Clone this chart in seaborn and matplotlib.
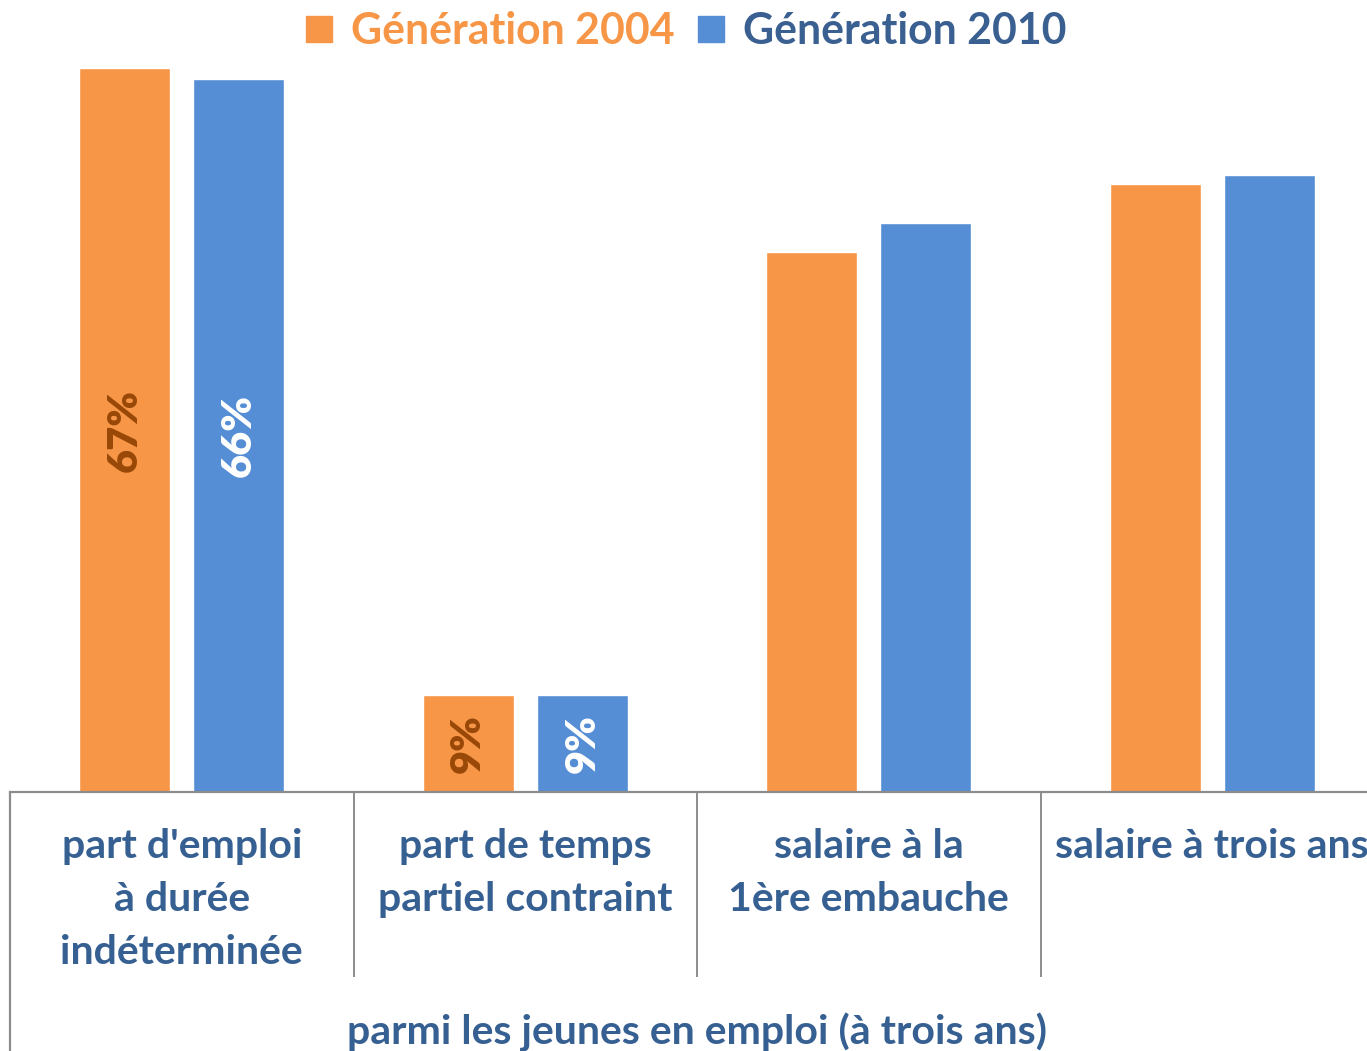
import matplotlib
matplotlib.use("Agg")
import matplotlib.pyplot as plt
import seaborn as sns
import pandas as pd
from matplotlib.lines import Line2D

categories = ["part d'emploi\nà durée\nindéterminée",
              "part de temps\npartiel contraint",
              "salaire à la\n1ère embauche",
              "salaire à trois ans"]
series = ["Génération 2004", "Génération 2010"]
values_2004 = [67, 9, 50.0, 56.3]
values_2010 = [66, 9, 52.7, 57.1]
labels_2004 = ["67%", "9%", "", ""]
labels_2010 = ["66%", "9%", "", ""]
group_label = "parmi les jeunes en emploi (à trois ans)"

ORANGE = "#F79646"
BLUE = "#558ED5"
TXT_BLUE = "#376092"
DARK_ORANGE = "#984807"

df = pd.DataFrame({
    "cat": categories * 2,
    "serie": [series[0]] * 4 + [series[1]] * 4,
    "val": values_2004 + values_2010,
})

sns.set_theme(style="white")
plt.rcParams['font.family'] = ['Lato', 'DejaVu Sans']
plt.rcParams['font.weight'] = 'bold'

W, H = 1367, 1051
fig = plt.figure(figsize=(W / 100, H / 100), dpi=100)
ax_left = 10 / W
ax_w = 1374 / W
ax_bottom = 1 - 792 / H
ax_h = 756.4 / H
ax = fig.add_axes([ax_left, ax_bottom, ax_w, ax_h])

sns.barplot(data=df, x="cat", y="val", hue="serie", order=categories,
            hue_order=series, palette=[ORANGE, BLUE], width=0.664, gap=0.2,
            saturation=1, ax=ax, legend=False)

ax.set_ylim(0, 70)
ax.set_xlim(-0.5, 3.5)
ax.set_yticks([])
ax.set_xlabel("")
ax.set_ylabel("")
for s in ["top", "right", "left"]:
    ax.spines[s].set_visible(False)
ax.spines["bottom"].set_color("#8C8C8C")
ax.spines["bottom"].set_linewidth(1.6)

ax.set_xticks(range(4))
ax.set_xticklabels(categories, fontsize=29.5, fontweight='bold', color=TXT_BLUE,
                   linespacing=1.53)
ax.tick_params(axis='x', which='major', length=0, pad=26)
ax.set_xticks([0.5, 1.5, 2.5, 3.5], minor=True)
ax.tick_params(axis='x', which='minor', length=133, width=1.4, color="#8C8C8C",
               direction='out', bottom=True)

xt = ax.get_xaxis_transform()
ax.add_line(Line2D([-0.5, -0.5], [0, -0.5], transform=xt, color="#8C8C8C",
                   lw=1.6, clip_on=False))

containers = ax.containers
ax.bar_label(containers[0], labels=labels_2004, label_type='center', rotation=90,
             fontsize=30, fontweight='heavy', color=DARK_ORANGE)
ax.bar_label(containers[1], labels=labels_2010, label_type='center', rotation=90,
             fontsize=30, fontweight='heavy', color='white')

fig.text(697 / W, 1 - 1032 / H, group_label, ha='center', va='center',
         fontsize=29.5, fontweight='bold', color=TXT_BLUE)

handles = [Line2D([], [], marker='s', linestyle='none', markersize=19,
                  markerfacecolor=c, markeredgecolor=c) for c in [ORANGE, BLUE]]
fig.legend(handles, series, loc='upper center', bbox_to_anchor=(0.5, 1.026),
           ncol=2, frameon=False, prop={'size': 30.8, 'weight': 'bold'},
           labelcolor=[ORANGE, "#3A5F91"], handletextpad=0.3, columnspacing=0.4,
           handlelength=0.9)

fig.savefig("out.png", dpi=100)
